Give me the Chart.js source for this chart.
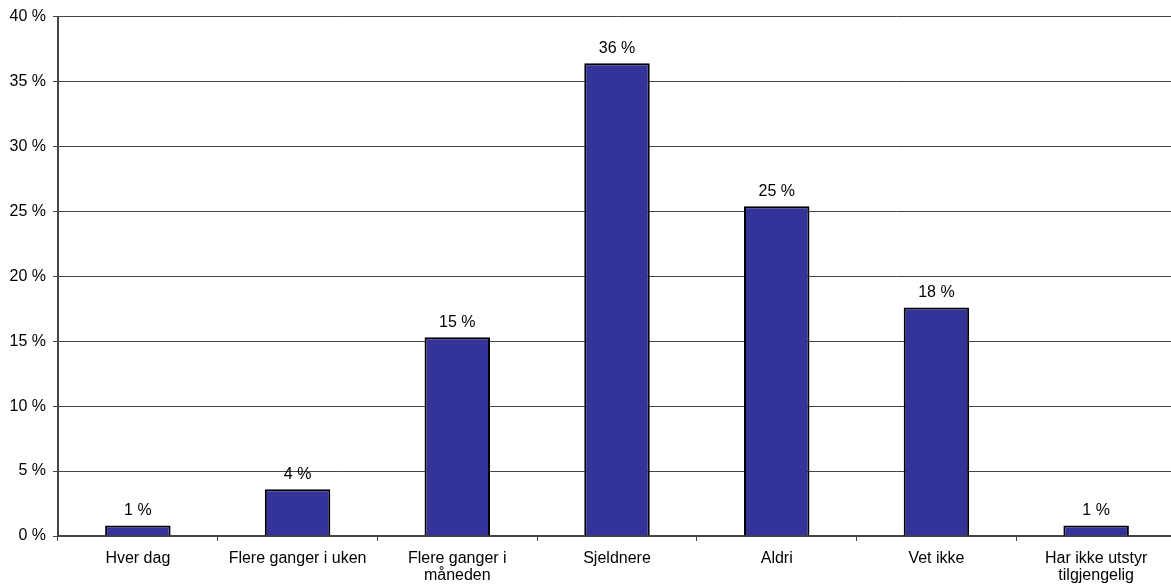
<!DOCTYPE html>
<html lang="no">
<head>
    <meta charset="UTF-8">
    <title>Hvor ofte</title>
    <script src="https://cdn.jsdelivr.net/npm/chart.js"></script>
    <style>
        html, body {
            margin: 0;
            padding: 0;
            background: #fff;
            overflow: hidden;
        }
        #chart {
            display: block;
        }
    </style>
</head>
<body>
    <canvas id="chart" width="1176" height="584"></canvas>

    <script>
        // Chart data
        const categories = [
            'Hver dag',
            'Flere ganger i uken',
            ['Flere ganger i', 'måneden'],
            'Sjeldnere',
            'Aldri',
            'Vet ikke',
            ['Har ikke utstyr', 'tilgjengelig']
        ];
        const shares = [0.8, 3.6, 15.3, 36.4, 25.4, 17.6, 0.8];
        const shareLabels = ['1 %', '4 %', '15 %', '36 %', '25 %', '18 %', '1 %'];
        const yTicks = [0, 5, 10, 15, 20, 25, 30, 35, 40];

        const FAMILY = 'Arial, "Liberation Sans", sans-serif';

        // Draws the percentage text above each bar
        const barLabels = {
            id: 'barLabels',
            afterDatasetsDraw(chart) {
                const ctx = chart.ctx;
                const meta = chart.getDatasetMeta(0);
                ctx.save();
                ctx.font = `16px ${FAMILY}`;
                ctx.fillStyle = '#000';
                ctx.textAlign = 'center';
                ctx.textBaseline = 'middle';
                meta.data.forEach((bar, i) => {
                    ctx.fillText(shareLabels[i], bar.x, bar.y - 15);
                });
                ctx.restore();
            }
        };

        new Chart(document.getElementById('chart'), {
            type: 'bar',
            data: {
                labels: categories,
                datasets: [{
                    data: shares,
                    backgroundColor: '#333399',
                    borderColor: '#000',
                    borderWidth: 2,
                    borderSkipped: 'bottom',
                    categoryPercentage: 1,
                    barPercentage: 0.41
                }]
            },
            options: {
                responsive: false,
                animation: false,
                layout: { padding: { top: 16, right: 0, bottom: 0, left: 0 } },
                plugins: {
                    legend: { display: false },
                    tooltip: { enabled: false }
                },
                scales: {
                    x: {
                        offset: true,
                        grid: {
                            offset: true,
                            drawOnChartArea: false,
                            tickLength: 5,
                            color: '#444'
                        },
                        border: { color: '#444', width: 2 },
                        ticks: {
                            color: '#000',
                            font: { family: FAMILY, size: 16, lineHeight: 1.07 },
                            padding: 9,
                            maxRotation: 0,
                            autoSkip: false
                        },
                        afterFit(scale) { scale.height = 48; }
                    },
                    y: {
                        min: 0,
                        max: 40,
                        afterBuildTicks(scale) {
                            scale.ticks = yTicks.map(v => ({ value: v }));
                        },
                        grid: {
                            color: '#444',
                            lineWidth: 1,
                            tickLength: 5
                        },
                        border: { color: '#444', width: 2 },
                        ticks: {
                            color: '#000',
                            font: { family: FAMILY, size: 16 },
                            padding: 7,
                            callback: v => v + ' %'
                        },
                        afterFit(scale) { scale.width = 58; }
                    }
                }
            },
            plugins: [barLabels]
        });
    </script>
</body>
</html>
